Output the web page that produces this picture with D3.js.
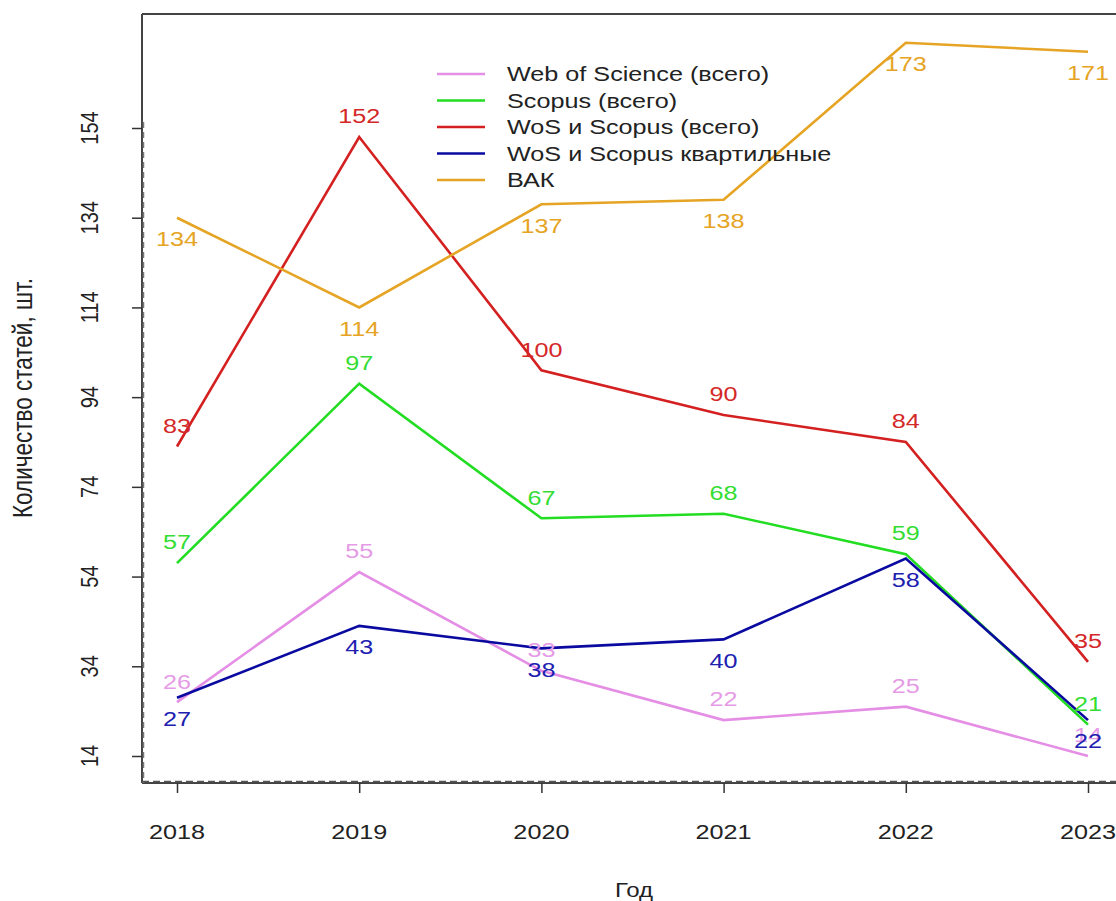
<!DOCTYPE html>
<html><head><meta charset="utf-8">
<script src="https://cdn.jsdelivr.net/npm/d3@7"></script>
<style>body{margin:0;background:#fff;} svg{display:block;}</style>
</head><body>
<svg id="c" width="1116" height="901"></svg>
<script>
const years = [2018, 2019, 2020, 2021, 2022, 2023];
const wos = [26, 55, 33, 22, 25, 14];
const scopus = [57, 97, 67, 68, 59, 21];
const wosScopus = [83, 152, 100, 90, 84, 35];
const quartile = [27, 43, 38, 40, 58, 22];
const vak = [134, 114, 137, 138, 173, 171];
const yTicks = [14, 34, 54, 74, 94, 114, 134, 154];
const seriesNames = ["Web of Science (всего)", "Scopus (всего)", "WoS и Scopus (всего)", "WoS и Scopus квартильные", "ВАК"];

const series = [
  {name: seriesNames[0], values: wos, color: "#e58ee5", label: "#e59be5", pos: -1},
  {name: seriesNames[1], values: scopus, color: "#22dd22", label: "#33dd33", pos: -1},
  {name: seriesNames[2], values: wosScopus, color: "#d42020", label: "#d42828", pos: -1},
  {name: seriesNames[3], values: quartile, color: "#0a0aa0", label: "#2020b0", pos: 1},
  {name: seriesNames[4], values: vak, color: "#e6a424", label: "#e6a424", pos: 1}
];

const svg = d3.select("#c");
const font = "'Liberation Sans', Arial, sans-serif";
const SX = 1.2; // horizontal stretch of the reference image
const x = d3.scalePoint().domain(years).range([177, 1088]);
const y = d3.scaleLinear().domain([14, 154]).range([756, 128]);
const plotLeft = 142, plotTop = 14, plotBottom = 783;

function stretchedText(g, tx, ty, str, size, fill, anchor, rotate) {
  return g.append("text")
    .attr("transform", `translate(${tx},${ty}) scale(${SX},1)` + (rotate ? " rotate(-90)" : ""))
    .attr("text-anchor", anchor || "middle").attr("dy", "0.35em")
    .attr("font-family", font).attr("font-size", size).attr("fill", fill).text(str);
}

// lines
const line = d3.line().x((d, i) => x(years[i])).y(d => y(d));
series.forEach(s => {
  svg.append("path").datum(s.values).attr("d", line)
    .attr("fill", "none").attr("stroke", s.color).attr("stroke-width", 2.6)
    .attr("stroke-linejoin", "miter");
});

// value labels
series.forEach(s => {
  const g = svg.append("g");
  s.values.forEach((v, i) => {
    stretchedText(g, x(years[i]), y(v) + s.pos * 21, v, 21, s.label, "middle");
  });
});

// frame
svg.append("line").attr("x1", plotLeft).attr("x2", 1116).attr("y1", plotTop).attr("y2", plotTop)
  .attr("stroke", "#444").attr("stroke-width", 2);
svg.append("line").attr("x1", plotLeft).attr("x2", plotLeft).attr("y1", plotTop).attr("y2", plotBottom)
  .attr("stroke", "#444").attr("stroke-width", 2);
svg.append("line").attr("x1", plotLeft).attr("x2", 1116).attr("y1", plotBottom).attr("y2", plotBottom)
  .attr("stroke", "#444").attr("stroke-width", 2);
// dashed overlays
svg.append("line").attr("x1", plotLeft + 1.5).attr("x2", plotLeft + 1.5).attr("y1", 122).attr("y2", plotBottom)
  .attr("stroke", "#777").attr("stroke-width", 1.5).attr("stroke-dasharray", "6,4");
svg.append("line").attr("x1", plotLeft).attr("x2", 1116).attr("y1", plotBottom - 1.5).attr("y2", plotBottom - 1.5)
  .attr("stroke", "#555").attr("stroke-width", 1.5).attr("stroke-dasharray", "7,4");

// y axis
const yAxis = svg.append("g").attr("transform", `translate(${plotLeft},0)`)
  .call(d3.axisLeft(y).tickValues(yTicks).tickSize(10).tickSizeOuter(0));
yAxis.select(".domain").remove();
yAxis.selectAll(".tick line").attr("stroke", "#333").attr("stroke-width", 1.5);
yAxis.selectAll(".tick text").remove();
const yLab = svg.append("g");
yTicks.forEach(t => stretchedText(yLab, 90, y(t), t, 20, "#222", "middle", true));

// x axis
const xAxis = svg.append("g").attr("transform", `translate(0,${plotBottom})`)
  .call(d3.axisBottom(x).tickSize(10).tickSizeOuter(0));
xAxis.select(".domain").remove();
xAxis.selectAll(".tick line").attr("stroke", "#333").attr("stroke-width", 1.5);
xAxis.selectAll(".tick text").remove();
const xLab = svg.append("g");
years.forEach(yr => stretchedText(xLab, x(yr), 832, yr, 21, "#222", "middle"));

// axis titles
stretchedText(svg, 634, 890, "Год", 20, "#222", "middle");
stretchedText(svg, 23, 398, "Количество статей, шт.", 22.5, "#222", "middle", true);

// legend
const lg = svg.append("g");
series.forEach((s, i) => {
  const ly = 74 + i * 26.5;
  lg.append("line").attr("x1", 437).attr("x2", 485).attr("y1", ly).attr("y2", ly)
    .attr("stroke", s.color).attr("stroke-width", 2.6);
  stretchedText(lg, 507, ly, s.name, 21, "#222", "start");
});
</script>
</body></html>
